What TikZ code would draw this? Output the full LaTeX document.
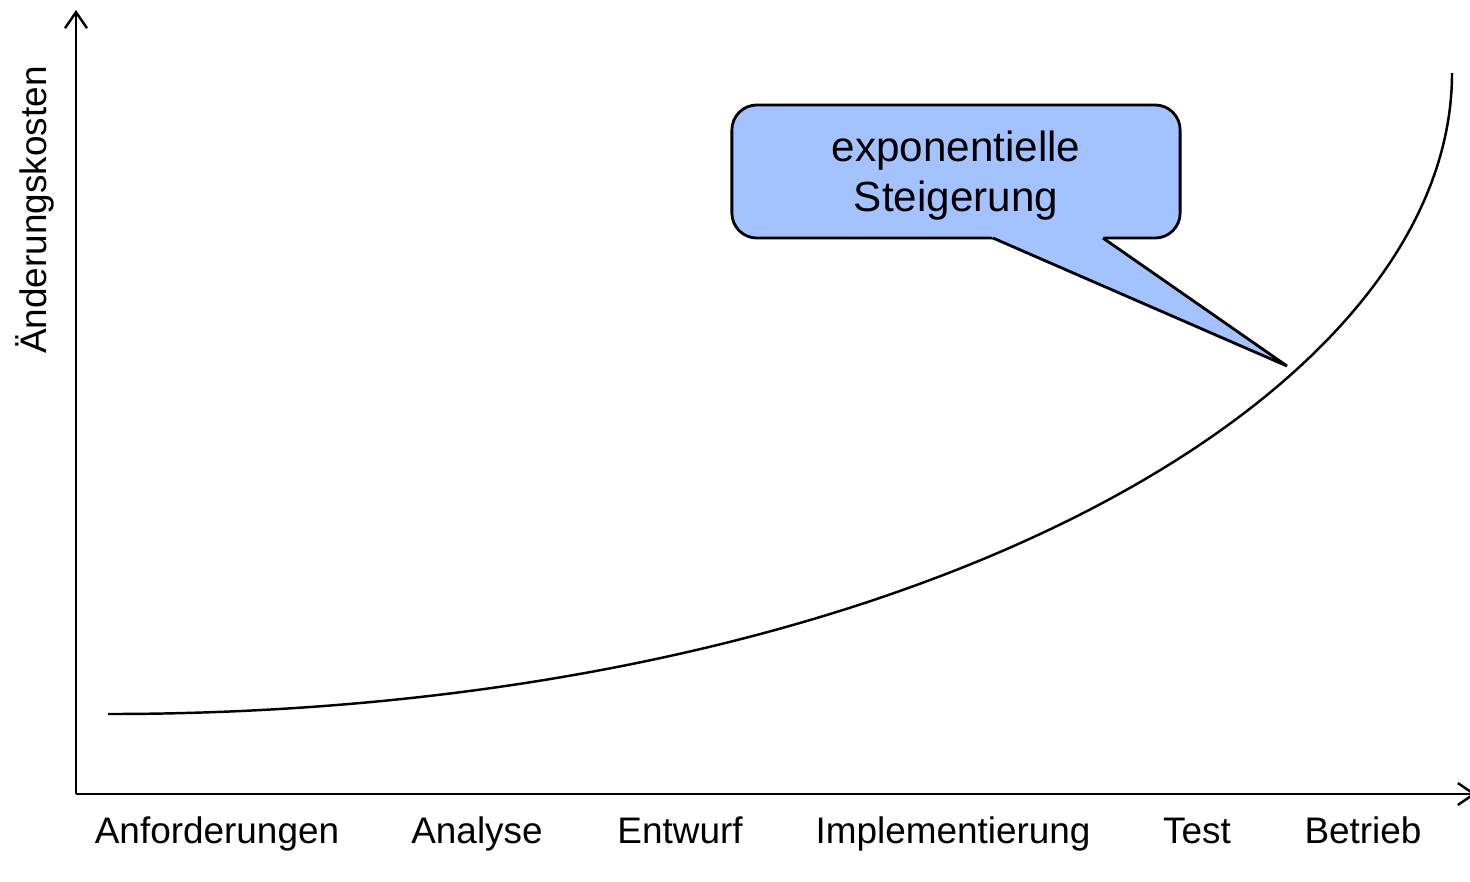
\documentclass[tikz,border=0pt]{standalone}
\usepackage{fontspec}
\setmainfont{Liberation Sans}
\usepackage{tikz}
\usetikzlibrary{arrows.meta, calc, positioning}
\definecolor{calloutblue}{RGB}{164,194,255}

\tikzset{
	axis/.style={line width=0.7pt, -{Straight Barb[length=1.6mm, width=2.2mm, line width=0.7pt]}},
	phase/.style={anchor=base, inner sep=0pt, font=\fontsize{10.5}{12.6}\selectfont},
	calloutbox/.style={draw, fill=calloutblue, line width=0.8pt, rounded corners=0.25cm,
		minimum width=4.48cm, minimum height=1.33cm, inner sep=0pt, outer sep=0pt},
	callouttext/.style={inner sep=0pt, align=center, font=\fontsize{12}{14.2}\selectfont}
}

\begin{document}
\begin{tikzpicture}[x=0.01cm, y=-0.01cm]
	\useasboundingbox (0,0) rectangle (1470,881);
	\pgfmathsetmacro{\originx}{76}
	\pgfmathsetmacro{\originy}{794}
	\coordinate (origin) at (\originx,\originy);
	\coordinate (ytip) at (\originx,10);
	\coordinate (xtip) at (1476,\originy);
	\draw[axis] (origin) -- (ytip);
	\draw[axis] (origin) -- (xtip);

	\node[phase, rotate=90] (ylabel) at (47,210) {Änderungskosten};

	\node[phase] (anf) at (217,843) {Anforderungen};
	\node[phase] (ana) at (477,843) {Analyse};
	\node[phase] (ent) at (680,843) {Entwurf};
	\node[phase] (imp) at (953,843) {Implementierung};
	\node[phase] (tst) at (1197,843) {Test};
	\node[phase] (btr) at (1363,843) {Betrieb};

	%% cost curve
	\coordinate (start) at (108,714);
	\coordinate (end) at (1452,73);
	\draw[line width=0.7pt] (start) .. controls (900,714) and (1452,400) .. (end);

	%% callout
	\node[calloutbox] (callout) at (956,171.5) {};
	\coordinate (tip) at (1287,366);
	\fill[calloutblue] ($(callout.south)+(30,-8)$) -- ($(callout.south)+(37,0)$) -- (tip)
		-- ($(callout.south)+(147,0)$) -- ($(callout.south)+(154,-8)$) -- cycle;
	\draw[line width=0.8pt, line join=miter] ($(callout.south)+(37,0)$) -- (tip) -- ($(callout.south)+(147,0)$);
	\node[callouttext] (steigerung) at ($(callout.center)+(0,4)$) {exponentielle\\Steigerung};
\end{tikzpicture}
\end{document}
